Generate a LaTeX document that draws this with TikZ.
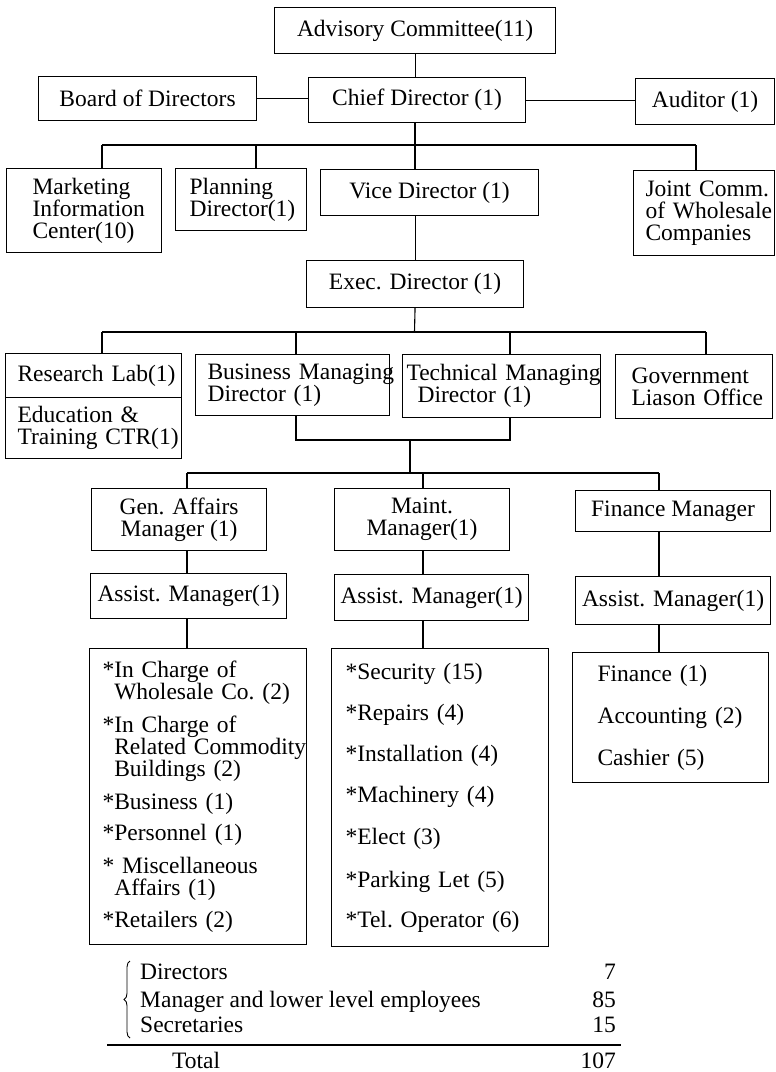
\documentclass[tikz,border=0pt]{standalone}
\usepackage{fontspec}
\setmainfont{Liberation Serif}
\usetikzlibrary{decorations.pathreplacing}
\newcommand\orgfnt{\fontsize{23.5}{22}\selectfont\lefthyphenmin=64\relax\hyphenpenalty=10000\relax}
\begin{document}
\begin{tikzpicture}[x=1pt,y=-1pt,
  every node/.style={font=\orgfnt},
  box/.style={draw, line width=1.1pt, anchor=north west, inner ysep=0pt, inner xsep=0pt, align=center},
  lbox/.style={draw, line width=1.1pt, anchor=north west, inner ysep=0pt, align=left},
  conn/.style={line width=1.1pt},
  txt/.style={inner sep=0pt, anchor=base west},
  num/.style={inner sep=0pt, anchor=base east}]
\useasboundingbox (0,0) rectangle (776,1072);

% top level
\node[box, minimum width=281pt, minimum height=46pt] (adv) at (274,7) {Advisory Committee(11)};
\node[box, minimum width=218pt, minimum height=44pt] (bod) at (38,76) {Board of Directors};
\node[box, minimum width=217pt, minimum height=45pt] (chief) at (308,77) {Chief Director (1)};
\node[box, minimum width=139pt, minimum height=46pt] (aud) at (635,78) {Auditor (1)};

% second level
\node[lbox, minimum width=155pt, minimum height=84pt, text width=103pt, inner xsep=26pt] (mkt) at (6,168) {Marketing\\Information\\Center(10)};
\node[lbox, minimum width=131pt, minimum height=62pt, text width=103pt, inner xsep=14pt] (plan) at (175,168) {Planning\\Director(1)};
\node[box, minimum width=218pt, minimum height=46pt] (vice) at (320,169) {Vice Director (1)};
\node[lbox, minimum width=141pt, minimum height=85pt, text width=117pt, inner xsep=12pt] (joint) at (633,170) {Joint~Comm.\\of~Wholesale\\Companies};
\node[box, minimum width=217pt, minimum height=47pt] (exec) at (306,260) {Exec. Director (1)};

% third level
\node[lbox, minimum width=176pt, minimum height=44pt, text width=152pt, inner xsep=12pt] (lab) at (5,353) {Research~Lab(1)};
\node[lbox, minimum width=176pt, minimum height=61pt, text width=152pt, inner xsep=12pt] (edu) at (5,397) {Education~\&\\Training~CTR(1)};
\node[lbox, minimum width=194pt, minimum height=61pt, text width=170pt, inner xsep=12pt] (bmd) at (195,354) {Business~Managing\\Director~(1)};
\node[lbox, minimum width=198pt, minimum height=63pt, text width=190pt, inner xsep=4pt] (tmd) at (402,354) {Technical~Managing\\\hspace*{11pt}Director~(1)};
\node[lbox, minimum width=157pt, minimum height=64pt, text width=125pt, inner xsep=16pt] (gov) at (615,354) {Government\\Liason~Office};

% managers
\node[box, minimum width=175pt, minimum height=62pt] (gen) at (91,488) {Gen. Affairs\\Manager (1)};
\node[box, minimum width=175pt, minimum height=62pt] (maint) at (334,488) {Maint.\\Manager(1)};
\node[box, minimum width=195pt, minimum height=41pt] (fin) at (575,490) {Finance Manager};
\node[box, minimum width=196pt, minimum height=45pt] (gasst) at (90,573) {Assist. Manager(1)};
\node[box, minimum width=194pt, minimum height=46pt] (masst) at (334,574) {Assist. Manager(1)};
\node[box, minimum width=195pt, minimum height=48pt] (fasst) at (575,576) {Assist. Manager(1)};

% lists
\node[lbox, minimum width=217pt, minimum height=296pt, text width=191pt, inner xsep=13pt] (glist) at (89,648) {*In~Charge~of\\
\phantom{*}Wholesale~Co.~(2)\\[11pt]
*In~Charge~of\\
\phantom{*}Related~Commodity\\
\phantom{*}Buildings~(2)\\[11pt]
*Business~(1)\\[9pt]
*Personnel~(1)\\[11pt]
*~Miscellaneous\\
\phantom{*}Affairs~(1)\\[10pt]
*Retailers~(2)};
\node[lbox, minimum width=217pt, minimum height=298pt, text width=189pt, inner xsep=14pt] (mlist) at (331,648) {*Security~(15)\\[19pt]
*Repairs~(4)\\[19pt]
*Installation~(4)\\[19pt]
*Machinery~(4)\\[20pt]
*Elect~(3)\\[21pt]
*Parking~Let~(5)\\[18pt]
*Tel.~Operator~(6)};
\node[lbox, minimum width=196pt, minimum height=130pt, text width=146pt, inner xsep=25pt] (flist) at (572,652) {Finance~(1)\\[20pt]
Accounting~(2)\\[20pt]
Cashier~(5)};

% connectors
\draw[conn] (adv.south) -- (adv.south |- chief.north);
\draw[conn] (bod.east) -- (bod.east -| chief.west);
\draw[conn] (chief.east) -- (chief.east -| aud.west);

\coordinate (j1) at (415,145);
\coordinate (j1l) at (102,145);
\coordinate (j1p) at (256,145);
\coordinate (j1r) at (696,145);
\draw[conn] (chief.south -| j1) -- (j1);
\draw[conn] (j1l) -- (j1r);
\draw[conn] (j1l) -- (j1l |- mkt.north);
\draw[conn] (j1p) -- (j1p |- plan.north);
\draw[conn] (j1) -- (j1 |- vice.north);
\draw[conn] (j1r) -- (j1r |- joint.north);
\draw[conn] (exec.north) -- (exec.north |- vice.south);

\coordinate (j2) at (414.5,332);
\coordinate (j2l) at (102,332);
\coordinate (j2b) at (296,332);
\coordinate (j2t) at (510,332);
\coordinate (j2r) at (706,332);
\draw[conn] (exec.south) -- (j2);
\draw[conn] (j2l) -- (j2r);
\draw[conn] (j2l) -- (j2l |- lab.north);
\draw[conn] (j2b) -- (j2b |- bmd.north);
\draw[conn] (j2t) -- (j2t |- tmd.north);
\draw[conn] (j2r) -- (j2r |- gov.north);

\coordinate (j3l) at (296,440);
\coordinate (j3r) at (510,440);
\coordinate (j3) at (410,440);
\draw[conn] (j3l |- bmd.south) -- (j3l) -- (j3r) -- (j3r |- tmd.south);

\coordinate (j4) at (410,473);
\coordinate (j4l) at (187,473);
\coordinate (j4m) at (423,473);
\coordinate (j4r) at (659,473);
\draw[conn] (j3) -- (j4);
\draw[conn] (j4l) -- (j4r);
\draw[conn] (j4l) -- (j4l |- gen.north);
\draw[conn] (j4m) -- (j4m |- maint.north);
\draw[conn] (j4r) -- (j4r |- fin.north);

\draw[conn] (gen.south -| j4l) -- (gasst.north -| j4l);
\draw[conn] (maint.south -| j4m) -- (masst.north -| j4m);
\draw[conn] (fin.south -| j4r) -- (fasst.north -| j4r);
\draw[conn] (gasst.south -| j4l) -- (glist.north -| j4l);
\draw[conn] (masst.south -| j4m) -- (mlist.north -| j4m);
\draw[conn] (fasst.south -| j4r) -- (flist.north -| j4r);

% summary
\node[txt] (dir) at (140,979) {Directors};
\node[txt] (mgr) at (140,1007) {Manager and lower level employees};
\node[txt] (sec) at (140,1032) {Secretaries};
\node[num] (ndir) at (616,979) {7};
\node[num] (nmgr) at (616,1007) {85};
\node[num] (nsec) at (616,1032) {15};
\draw[decorate, decoration={brace, amplitude=6pt}, line width=0.9pt] (130,1038) -- (130,961);
\coordinate (rl) at (107,1045);
\coordinate (rr) at (621,1045);
\draw[conn] (rl) -- (rr);
\node[txt] (tot) at (172,1068) {Total};
\node[num] (ntot) at (616,1068) {107};
\end{tikzpicture}
\end{document}
